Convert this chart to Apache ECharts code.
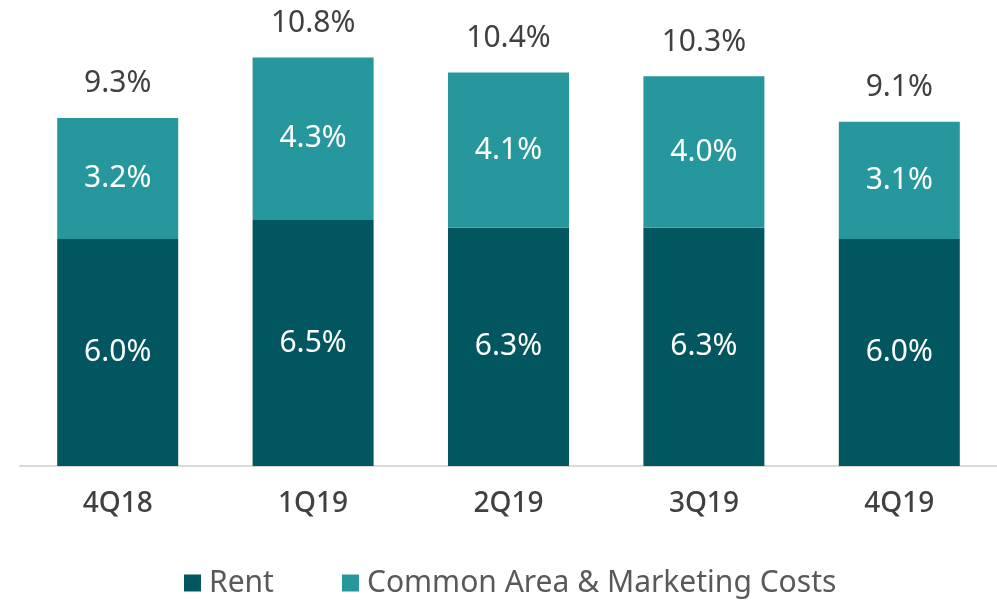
<!DOCTYPE html>
<html>
<head>
<meta charset="utf-8">
<script src="https://cdn.jsdelivr.net/npm/echarts@6/dist/echarts.min.js"></script>
<style>
  html, body { margin: 0; padding: 0; background: #fff; }
  #chart { width: 997px; height: 600px; }
</style>
</head>
<body>
<div id="chart"></div>
<script>
// data
var quarters = ["4Q18", "1Q19", "2Q19", "3Q19", "4Q19"];
var rent = [6.0, 6.5, 6.3, 6.3, 6.0];
var commonArea = [3.2, 4.3, 4.1, 4.0, 3.1];
var totals = [9.3, 10.8, 10.4, 10.3, 9.1];

var fontName = "'Noto Sans', Lato, sans-serif";

var chart = echarts.init(document.getElementById("chart"));
chart.setOption({
  animation: false,
  grid: {
    left: 20,
    right: 0,
    top: 12,
    bottom: 134,
    containLabel: false,
  },
  legend: {
    bottom: 2,
    left: 184,
    padding: 0,
    itemWidth: 17,
    itemHeight: 17,
    itemGap: 68,
    icon: "rect",
    textStyle: {
      color: "#595959",
      fontSize: 30,
      fontFamily: fontName,
      padding: [0, 0, 0, 3],
    },
    data: ["Rent", "Common Area & Marketing Costs"],
  },
  xAxis: {
    type: "category",
    data: quarters,
    axisLine: {
      lineStyle: { color: "#d9d9d9", width: 2 },
    },
    axisTick: { show: false },
    axisLabel: {
      color: "#404040",
      fontSize: 28,
      fontWeight: 500,
      fontFamily: fontName,
      margin: 24,
    },
  },
  yAxis: {
    type: "value",
    min: 0,
    max: 12,
    show: false,
    splitLine: { show: false },
  },
  series: [
    {
      name: "Rent",
      type: "bar",
      stack: "cost",
      barWidth: 121,
      data: rent,
      itemStyle: { color: "#02565f" },
      label: {
        show: true,
        position: "inside",
        color: "#ffffff",
        fontSize: 30,
        fontFamily: fontName,
        formatter: function (p) {
          return p.value.toFixed(1) + "%";
        },
      },
    },
    {
      name: "Common Area & Marketing Costs",
      type: "bar",
      stack: "cost",
      barWidth: 121,
      data: commonArea,
      itemStyle: { color: "#26979c" },
      label: {
        show: true,
        position: "inside",
        color: "#ffffff",
        fontSize: 30,
        fontFamily: fontName,
        formatter: function (p) {
          return p.value.toFixed(1) + "%";
        },
      },
    },
    {
      // invisible series carrying the totals above each bar
      name: "total",
      type: "bar",
      stack: "cost",
      barWidth: 121,
      data: quarters.map(function () { return 0; }),
      itemStyle: { color: "transparent" },
      silent: true,
      label: {
        show: true,
        position: "top",
        distance: 19,
        color: "#404040",
        fontSize: 30,
        fontFamily: fontName,
        formatter: function (p) {
          return totals[p.dataIndex].toFixed(1) + "%";
        },
      },
    },
  ],
});
</script>
</body>
</html>
